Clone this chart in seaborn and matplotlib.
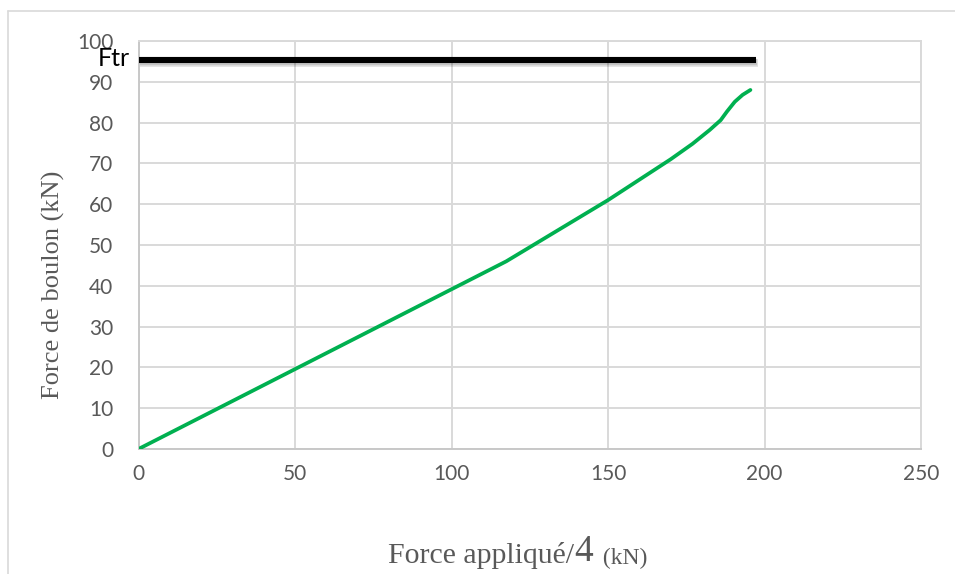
import matplotlib
matplotlib.use("Agg")
import matplotlib.pyplot as plt
import matplotlib.patheffects as pe
from matplotlib.lines import Line2D
import seaborn as sns
import pandas as pd

# Bolt force as a function of applied force / 4
applied_force = [0, 117.5, 150, 170, 177, 182.5, 186, 188, 190.5, 193, 195.5]
bolt_force = [0, 46, 61, 71, 74.8, 78.2, 80.6, 82.7, 85.1, 86.8, 88]

# Ftr limit line
ftr_label = "Ftr"
ftr_value = 95.3
ftr_x = [0, 197.3]

x_ticks = [0, 50, 100, 150, 200, 250]
y_ticks = [0, 10, 20, 30, 40, 50, 60, 70, 80, 90, 100]

sns.set_theme(style="white")
plt.rcParams["font.family"] = ["Lato", "DejaVu Sans"]

fig = plt.figure(figsize=(9.55, 5.74), dpi=100)
ax = fig.add_axes([138.5 / 955, 1 - 449 / 574, (921 - 138.5) / 955, (449 - 41) / 574])

grid_c = "#d9d9d9"
text_c = "#595959"

curve = pd.DataFrame({"x": applied_force, "y": bolt_force})
sns.lineplot(data=curve, x="x", y="y", ax=ax, color="#00b050", linewidth=2.7,
             sort=False, solid_capstyle="round", solid_joinstyle="round", zorder=3)

ftr = pd.DataFrame({"x": ftr_x, "y": [ftr_value, ftr_value]})
sns.lineplot(data=ftr, x="x", y="y", ax=ax, color="black", linewidth=4.4, zorder=4,
             solid_capstyle="butt",
             path_effects=[pe.SimpleLineShadow(offset=(1.2, -2.0), shadow_color="#000000",
                                               alpha=0.12, linewidth=5.5),
                           pe.SimpleLineShadow(offset=(1.0, -1.5), shadow_color="#000000",
                                               alpha=0.12, linewidth=4.6),
                           pe.Normal()])

ax.set_xlim(0, 250)
ax.set_ylim(0, 100)
ax.set_xticks(x_ticks)
ax.set_yticks(y_ticks)
ax.grid(True, color=grid_c, linewidth=1.4)
ax.set_axisbelow(True)
for s in ax.spines.values():
    s.set_color(grid_c)
    s.set_linewidth(1.4)
ax.spines["left"].set_color("#c8c8c8")
ax.spines["bottom"].set_color("#c8c8c8")
ax.tick_params(axis="both", length=0, labelsize=15, labelcolor=text_c)
ax.tick_params(axis="y", pad=18)
ax.tick_params(axis="x", pad=11)
ax.set_xlabel("")
ax.set_ylabel("")

# Ftr label at the left end of the limit line
ax.text(-2.7, 93.9, ftr_label, ha="right", va="baseline", fontsize=18,
        color="black", zorder=5)

# Axis titles
fig.text(53 / 955, 1 - 285 / 574, "Force de boulon (kN)", rotation=90,
         ha="center", va="center", fontsize=19, color=text_c,
         family=["Liberation Serif"])

t1 = fig.text(388 / 955, 1 - 563 / 574, "Force appliqué/", ha="left",
              va="baseline", fontsize=21.5, color=text_c, family=["Liberation Serif"])
t2 = ax.annotate("4", xy=(1, 0), xycoords=t1, xytext=(0, 0), textcoords="offset points",
                 ha="left", va="bottom", fontsize=27, color=text_c,
                 family=["Liberation Serif"], annotation_clip=False)
t3 = ax.annotate(" (kN)", xy=(1, 0), xycoords=t2, xytext=(3, 0), textcoords="offset points",
                 ha="left", va="bottom", fontsize=17, color=text_c,
                 family=["Liberation Serif"], annotation_clip=False)

# Chart area frame (left and top edges)
fig.add_artist(Line2D([8 / 955, 8 / 955], [0, 1 - 11 / 574], transform=fig.transFigure,
                      color=grid_c, linewidth=1.2))
fig.add_artist(Line2D([8 / 955, 1], [1 - 11 / 574, 1 - 11 / 574], transform=fig.transFigure,
                      color=grid_c, linewidth=1.2))

fig.savefig("out.png", dpi=100, facecolor="white")
